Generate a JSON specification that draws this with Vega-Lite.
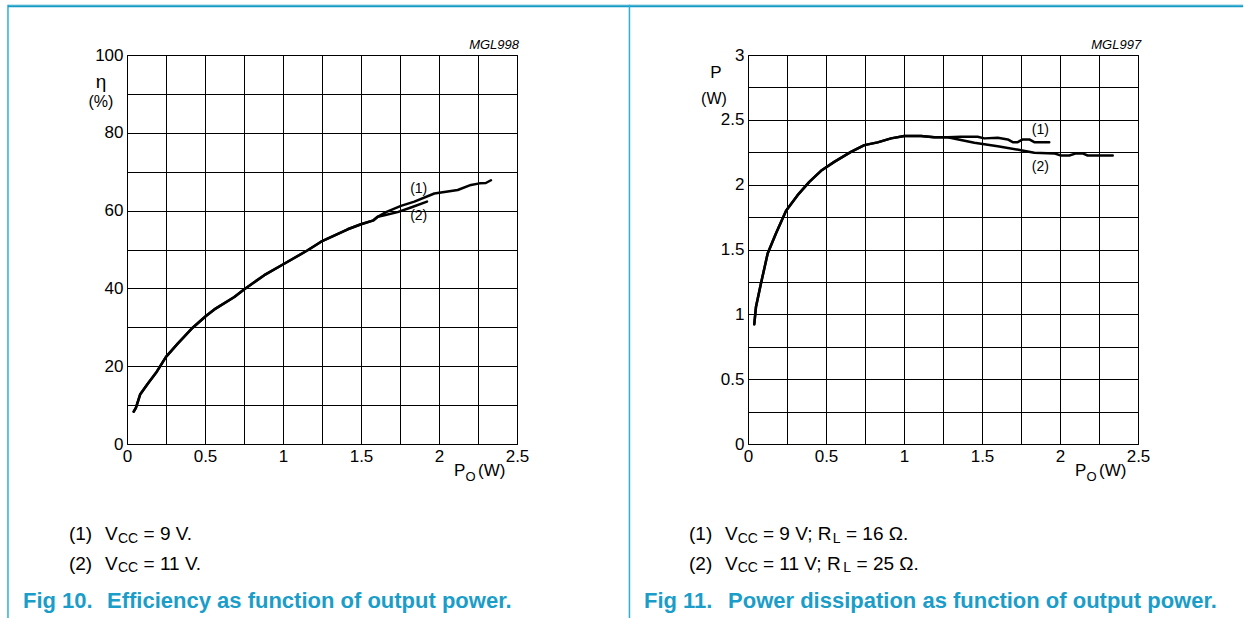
{
  "$schema": "https://vega.github.io/schema/vega-lite/v6.json",
  "background": "white",
  "padding": {"left": 6, "top": 3, "right": 0, "bottom": 0},
  "bounds": "flush",
  "spacing": 231,
  "config": {
    "font": "Liberation Sans",
    "view": {"stroke": "#000", "strokeWidth": 1},
    "axis": {"ticks": false, "domain": false, "grid": true, "gridColor": "#000", "gridOpacity": 1, "gridWidth": 1, "labelFont": "Liberation Sans", "labelFontSize": 17, "labelColor": "#000", "labelPadding": 4, "labelFlush": false, "labelOverlap": false},
    "text": {"font": "Liberation Sans", "color": "#000"}
  },
  "datasets": {
    "eff": [
      {"po": 0.043, "eta": 8.3, "s": "1"}, {"po": 0.057, "eta": 9.3, "s": "1"}, {"po": 0.085, "eta": 12.8, "s": "1"}, {"po": 0.133, "eta": 15.5, "s": "1"}, {"po": 0.186, "eta": 18.3, "s": "1"}, {"po": 0.25, "eta": 22.4, "s": "1"}, {"po": 0.325, "eta": 25.8, "s": "1"}, {"po": 0.421, "eta": 29.9, "s": "1"}, {"po": 0.506, "eta": 32.9, "s": "1"}, {"po": 0.56, "eta": 34.6, "s": "1"}, {"po": 0.688, "eta": 37.8, "s": "1"}, {"po": 0.752, "eta": 39.8, "s": "1"}, {"po": 0.88, "eta": 43.4, "s": "1"}, {"po": 1.002, "eta": 46.2, "s": "1"}, {"po": 1.158, "eta": 49.8, "s": "1"}, {"po": 1.244, "eta": 52.0, "s": "1"}, {"po": 1.415, "eta": 55.2, "s": "1"}, {"po": 1.5, "eta": 56.5, "s": "1"}, {"po": 1.58, "eta": 57.5, "s": "1"}, {"po": 1.607, "eta": 58.4, "s": "1"},
      {"po": 1.65, "eta": 58.8, "s": "1"}, {"po": 1.735, "eta": 59.6, "s": "1"}, {"po": 1.82, "eta": 60.8, "s": "1"}, {"po": 1.923, "eta": 62.3, "s": "1"},
      {"po": 0.043, "eta": 8.3, "s": "2"}, {"po": 0.057, "eta": 9.3, "s": "2"}, {"po": 0.085, "eta": 12.8, "s": "2"}, {"po": 0.133, "eta": 15.5, "s": "2"}, {"po": 0.186, "eta": 18.3, "s": "2"}, {"po": 0.25, "eta": 22.4, "s": "2"}, {"po": 0.325, "eta": 25.8, "s": "2"}, {"po": 0.421, "eta": 29.9, "s": "2"}, {"po": 0.506, "eta": 32.9, "s": "2"}, {"po": 0.56, "eta": 34.6, "s": "2"}, {"po": 0.688, "eta": 37.8, "s": "2"}, {"po": 0.752, "eta": 39.8, "s": "2"}, {"po": 0.88, "eta": 43.4, "s": "2"}, {"po": 1.002, "eta": 46.2, "s": "2"}, {"po": 1.158, "eta": 49.8, "s": "2"}, {"po": 1.244, "eta": 52.0, "s": "2"}, {"po": 1.415, "eta": 55.2, "s": "2"}, {"po": 1.5, "eta": 56.5, "s": "2"}, {"po": 1.58, "eta": 57.5, "s": "2"}, {"po": 1.607, "eta": 58.4, "s": "2"},
      {"po": 1.66, "eta": 59.6, "s": "2"}, {"po": 1.756, "eta": 61.2, "s": "2"}, {"po": 1.842, "eta": 62.3, "s": "2"}, {"po": 1.97, "eta": 64.4, "s": "2"}, {"po": 2.12, "eta": 65.3, "s": "2"}, {"po": 2.205, "eta": 66.6, "s": "2"}, {"po": 2.26, "eta": 67.0, "s": "2"}, {"po": 2.3, "eta": 67.1, "s": "2"}, {"po": 2.333, "eta": 67.8, "s": "2"}
    ],
    "pd": [
      {"po": 0.04, "p": 0.923, "s": "1"}, {"po": 0.051, "p": 1.056, "s": "1"}, {"po": 0.083, "p": 1.237, "s": "1"}, {"po": 0.126, "p": 1.469, "s": "1"}, {"po": 0.179, "p": 1.623, "s": "1"}, {"po": 0.244, "p": 1.798, "s": "1"}, {"po": 0.318, "p": 1.919, "s": "1"}, {"po": 0.393, "p": 2.022, "s": "1"}, {"po": 0.468, "p": 2.107, "s": "1"}, {"po": 0.553, "p": 2.176, "s": "1"}, {"po": 0.66, "p": 2.253, "s": "1"}, {"po": 0.746, "p": 2.305, "s": "1"}, {"po": 0.831, "p": 2.326, "s": "1"}, {"po": 0.917, "p": 2.357, "s": "1"}, {"po": 1.002, "p": 2.375, "s": "1"}, {"po": 1.109, "p": 2.375, "s": "1"}, {"po": 1.194, "p": 2.365, "s": "1"}, {"po": 1.28, "p": 2.365, "s": "1"},
      {"po": 1.365, "p": 2.369, "s": "1"}, {"po": 1.472, "p": 2.369, "s": "1"}, {"po": 1.515, "p": 2.357, "s": "1"}, {"po": 1.601, "p": 2.362, "s": "1"}, {"po": 1.665, "p": 2.349, "s": "1"}, {"po": 1.697, "p": 2.328, "s": "1"}, {"po": 1.729, "p": 2.328, "s": "1"}, {"po": 1.761, "p": 2.349, "s": "1"}, {"po": 1.803, "p": 2.349, "s": "1"}, {"po": 1.835, "p": 2.328, "s": "1"}, {"po": 1.931, "p": 2.328, "s": "1"},
      {"po": 0.04, "p": 0.923, "s": "2"}, {"po": 0.051, "p": 1.056, "s": "2"}, {"po": 0.083, "p": 1.237, "s": "2"}, {"po": 0.126, "p": 1.469, "s": "2"}, {"po": 0.179, "p": 1.623, "s": "2"}, {"po": 0.244, "p": 1.798, "s": "2"}, {"po": 0.318, "p": 1.919, "s": "2"}, {"po": 0.393, "p": 2.022, "s": "2"}, {"po": 0.468, "p": 2.107, "s": "2"}, {"po": 0.553, "p": 2.176, "s": "2"}, {"po": 0.66, "p": 2.253, "s": "2"}, {"po": 0.746, "p": 2.305, "s": "2"}, {"po": 0.831, "p": 2.326, "s": "2"}, {"po": 0.917, "p": 2.357, "s": "2"}, {"po": 1.002, "p": 2.375, "s": "2"}, {"po": 1.109, "p": 2.375, "s": "2"}, {"po": 1.194, "p": 2.365, "s": "2"}, {"po": 1.28, "p": 2.365, "s": "2"},
      {"po": 1.365, "p": 2.344, "s": "2"}, {"po": 1.451, "p": 2.323, "s": "2"}, {"po": 1.601, "p": 2.297, "s": "2"}, {"po": 1.75, "p": 2.266, "s": "2"}, {"po": 1.835, "p": 2.246, "s": "2"}, {"po": 1.963, "p": 2.241, "s": "2"}, {"po": 2.006, "p": 2.225, "s": "2"}, {"po": 2.06, "p": 2.225, "s": "2"}, {"po": 2.103, "p": 2.241, "s": "2"}, {"po": 2.145, "p": 2.241, "s": "2"}, {"po": 2.177, "p": 2.225, "s": "2"}, {"po": 2.338, "p": 2.225, "s": "2"}
    ],
    "annL": [
      {"po": -0.167, "eta": 93.06, "t": "η", "k": "yt"},
      {"po": -0.167, "eta": 87.92, "t": "(%)", "k": "yu"},
      {"po": 2.096, "eta": -7.0, "t": "P", "k": "xt"},
      {"po": 2.17, "eta": -8.6, "t": "O", "k": "xs"},
      {"po": 2.25, "eta": -7.0, "t": "(W)", "k": "xt"},
      {"po": 2.513, "eta": 102.6, "t": "MGL998", "k": "code"},
      {"po": 1.87, "eta": 65.5, "t": "(1)", "k": "lbl"},
      {"po": 1.87, "eta": 58.6, "t": "(2)", "k": "lbl"},
      {"po": -0.372, "eta": -23.1, "t": "(1)", "k": "cap"},
      {"po": -0.141, "eta": -23.1, "t": "V", "k": "cap"},
      {"po": -0.058, "eta": -24.3, "t": "CC", "k": "sub"},
      {"po": 0.106, "eta": -23.1, "t": "= 9 V.", "k": "cap"},
      {"po": -0.372, "eta": -30.8, "t": "(2)", "k": "cap"},
      {"po": -0.141, "eta": -30.8, "t": "V", "k": "cap"},
      {"po": -0.058, "eta": -32.0, "t": "CC", "k": "sub"},
      {"po": 0.106, "eta": -30.8, "t": "= 11 V.", "k": "cap"},
      {"po": -0.667, "eta": -40.4, "t": "Fig 10.", "k": "fig"},
      {"po": -0.128, "eta": -40.4, "t": "Efficiency as function of output power.", "k": "fig"}
    ],
    "annR": [
      {"po": -0.205, "p": 2.861, "t": "P", "k": "yt"},
      {"po": -0.218, "p": 2.661, "t": "(W)", "k": "yu"},
      {"po": 2.096, "p": -0.21, "t": "P", "k": "xt"},
      {"po": 2.17, "p": -0.258, "t": "O", "k": "xs"},
      {"po": 2.25, "p": -0.21, "t": "(W)", "k": "xt"},
      {"po": 2.52, "p": 3.077, "t": "MGL997", "k": "code"},
      {"po": 1.874, "p": 2.419, "t": "(1)", "k": "lbl"},
      {"po": 1.874, "p": 2.136, "t": "(2)", "k": "lbl"},
      {"po": -0.378, "p": -0.694, "t": "(1)", "k": "cap"},
      {"po": -0.147, "p": -0.694, "t": "V", "k": "cap"},
      {"po": -0.066, "p": -0.729, "t": "CC", "k": "sub"},
      {"po": 0.096, "p": -0.694, "t": "= 9 V; R", "k": "cap"},
      {"po": 0.543, "p": -0.729, "t": "L", "k": "sub"},
      {"po": 0.628, "p": -0.694, "t": "= 16 Ω.", "k": "cap"},
      {"po": -0.378, "p": -0.925, "t": "(2)", "k": "cap"},
      {"po": -0.147, "p": -0.925, "t": "V", "k": "cap"},
      {"po": -0.066, "p": -0.96, "t": "CC", "k": "sub"},
      {"po": 0.096, "p": -0.925, "t": "= 11 V; R", "k": "cap"},
      {"po": 0.611, "p": -0.96, "t": "L", "k": "sub"},
      {"po": 0.696, "p": -0.925, "t": "= 25 Ω.", "k": "cap"},
      {"po": -0.667, "p": -1.211, "t": "Fig 11.", "k": "fig"},
      {"po": -0.128, "p": -1.211, "t": "Power dissipation as function of output power.", "k": "fig"}
    ],
    "frameL": [
      {"po": -0.763, "po2": -0.763, "eta": 112.918, "eta2": -44.7, "k": "side"},
      {"po": -0.763, "po2": 7.155, "eta": 112.532, "eta2": 112.532, "k": "top"},
      {"po": -0.763, "po2": 7.155, "eta": 112.918, "eta2": 112.918, "k": "light"}
    ],
    "frameR": [
      {"po": -0.76, "po2": -0.76, "p": 3.387, "p2": -1.35, "k": "side"}
    ]
  },
  "hconcat": [
    {
      "width": 390,
      "height": 389,
      "encoding": {
        "x": {"field": "po", "type": "quantitative", "scale": {"domain": [0, 2.5], "nice": false, "zero": false},
              "axis": {"title": null, "values": [0, 0.25, 0.5, 0.75, 1, 1.25, 1.5, 1.75, 2, 2.25, 2.5], "labelExpr": "datum.value % 0.5 === 0 ? format(datum.value, '~g') : ''", "labelBaseline": "top"}},
        "y": {"field": "eta", "type": "quantitative", "scale": {"domain": [0, 100], "nice": false},
              "axis": {"title": null, "values": [0, 10, 20, 30, 40, 50, 60, 70, 80, 90, 100], "labelExpr": "datum.value % 20 === 0 ? format(datum.value, '~g') : ''"}}
      },
      "layer": [
        {
          "data": {"name": "eff"},
          "mark": {"type": "line", "color": "#000", "strokeWidth": 2.5, "strokeJoin": "round", "strokeCap": "round"},
          "encoding": {"detail": {"field": "s", "type": "nominal"}}
        },
        {
          "data": {"name": "frameL"},
          "transform": [{"filter": "datum.k === 'side'"}],
          "mark": {"type": "rule", "color": "#2cb0d8", "strokeWidth": 1.5},
          "encoding": {"x2": {"field": "po2"}, "y2": {"field": "eta2"}}
        },
        {
          "data": {"name": "frameL"},
          "transform": [{"filter": "datum.k === 'light'"}],
          "mark": {"type": "rule", "color": "#b8dfec", "strokeWidth": 1},
          "encoding": {"x2": {"field": "po2"}, "y2": {"field": "eta2"}}
        },
        {
          "data": {"name": "frameL"},
          "transform": [{"filter": "datum.k === 'top'"}],
          "mark": {"type": "rule", "color": "#159bc5", "strokeWidth": 2},
          "encoding": {"x2": {"field": "po2"}, "y2": {"field": "eta2"}}
        },
        {
          "data": {"name": "annL"},
          "transform": [{"filter": "datum.k === 'yt'"}],
          "mark": {"type": "text", "align": "center", "baseline": "middle", "fontSize": 19},
          "encoding": {"text": {"field": "t"}}
        },
        {
          "data": {"name": "annL"},
          "transform": [{"filter": "datum.k === 'yu'"}],
          "mark": {"type": "text", "align": "center", "baseline": "middle", "fontSize": 16},
          "encoding": {"text": {"field": "t"}}
        },
        {
          "data": {"name": "annL"},
          "transform": [{"filter": "datum.k === 'xt'"}],
          "mark": {"type": "text", "align": "left", "baseline": "middle", "fontSize": 17},
          "encoding": {"text": {"field": "t"}}
        },
        {
          "data": {"name": "annL"},
          "transform": [{"filter": "datum.k === 'xs'"}],
          "mark": {"type": "text", "align": "left", "baseline": "middle", "fontSize": 13},
          "encoding": {"text": {"field": "t"}}
        },
        {
          "data": {"name": "annL"},
          "transform": [{"filter": "datum.k === 'code'"}],
          "mark": {"type": "text", "align": "right", "baseline": "middle", "fontSize": 13, "fontStyle": "italic"},
          "encoding": {"text": {"field": "t"}}
        },
        {
          "data": {"name": "annL"},
          "transform": [{"filter": "datum.k === 'lbl'"}],
          "mark": {"type": "text", "align": "center", "baseline": "middle", "fontSize": 14},
          "encoding": {"text": {"field": "t"}}
        },
        {
          "data": {"name": "annL"},
          "transform": [{"filter": "datum.k === 'cap'"}],
          "mark": {"type": "text", "align": "left", "baseline": "middle", "fontSize": 19},
          "encoding": {"text": {"field": "t"}}
        },
        {
          "data": {"name": "annL"},
          "transform": [{"filter": "datum.k === 'sub'"}],
          "mark": {"type": "text", "align": "left", "baseline": "middle", "fontSize": 14},
          "encoding": {"text": {"field": "t"}}
        },
        {
          "data": {"name": "annL"},
          "transform": [{"filter": "datum.k === 'fig'"}],
          "mark": {"type": "text", "align": "left", "baseline": "middle", "fontSize": 22, "fontWeight": "bold", "color": "#1b9dc9"},
          "encoding": {"text": {"field": "t"}}
        }
      ]
    },
    {
      "width": 390,
      "height": 389,
      "encoding": {
        "x": {"field": "po", "type": "quantitative", "scale": {"domain": [0, 2.5], "nice": false, "zero": false},
              "axis": {"title": null, "values": [0, 0.25, 0.5, 0.75, 1, 1.25, 1.5, 1.75, 2, 2.25, 2.5], "labelExpr": "datum.value % 0.5 === 0 ? format(datum.value, '~g') : ''", "labelBaseline": "top"}},
        "y": {"field": "p", "type": "quantitative", "scale": {"domain": [0, 3], "nice": false},
              "axis": {"title": null, "values": [0, 0.25, 0.5, 0.75, 1, 1.25, 1.5, 1.75, 2, 2.25, 2.5, 2.75, 3], "labelExpr": "datum.value % 0.5 === 0 ? format(datum.value, '~g') : ''"}}
      },
      "layer": [
        {
          "data": {"name": "pd"},
          "mark": {"type": "line", "color": "#000", "strokeWidth": 2.5, "strokeJoin": "round", "strokeCap": "round"},
          "encoding": {"detail": {"field": "s", "type": "nominal"}}
        },
        {
          "data": {"name": "frameR"},
          "transform": [{"filter": "datum.k === 'side'"}],
          "mark": {"type": "rule", "color": "#2cb0d8", "strokeWidth": 1.5},
          "encoding": {"x2": {"field": "po2"}, "y2": {"field": "p2"}}
        },
        {
          "data": {"name": "annR"},
          "transform": [{"filter": "datum.k === 'yt'"}],
          "mark": {"type": "text", "align": "center", "baseline": "middle", "fontSize": 17},
          "encoding": {"text": {"field": "t"}}
        },
        {
          "data": {"name": "annR"},
          "transform": [{"filter": "datum.k === 'yu'"}],
          "mark": {"type": "text", "align": "center", "baseline": "middle", "fontSize": 16},
          "encoding": {"text": {"field": "t"}}
        },
        {
          "data": {"name": "annR"},
          "transform": [{"filter": "datum.k === 'xt'"}],
          "mark": {"type": "text", "align": "left", "baseline": "middle", "fontSize": 17},
          "encoding": {"text": {"field": "t"}}
        },
        {
          "data": {"name": "annR"},
          "transform": [{"filter": "datum.k === 'xs'"}],
          "mark": {"type": "text", "align": "left", "baseline": "middle", "fontSize": 13},
          "encoding": {"text": {"field": "t"}}
        },
        {
          "data": {"name": "annR"},
          "transform": [{"filter": "datum.k === 'code'"}],
          "mark": {"type": "text", "align": "right", "baseline": "middle", "fontSize": 13, "fontStyle": "italic"},
          "encoding": {"text": {"field": "t"}}
        },
        {
          "data": {"name": "annR"},
          "transform": [{"filter": "datum.k === 'lbl'"}],
          "mark": {"type": "text", "align": "center", "baseline": "middle", "fontSize": 14},
          "encoding": {"text": {"field": "t"}}
        },
        {
          "data": {"name": "annR"},
          "transform": [{"filter": "datum.k === 'cap'"}],
          "mark": {"type": "text", "align": "left", "baseline": "middle", "fontSize": 19},
          "encoding": {"text": {"field": "t"}}
        },
        {
          "data": {"name": "annR"},
          "transform": [{"filter": "datum.k === 'sub'"}],
          "mark": {"type": "text", "align": "left", "baseline": "middle", "fontSize": 14},
          "encoding": {"text": {"field": "t"}}
        },
        {
          "data": {"name": "annR"},
          "transform": [{"filter": "datum.k === 'fig'"}],
          "mark": {"type": "text", "align": "left", "baseline": "middle", "fontSize": 22, "fontWeight": "bold", "color": "#1b9dc9"},
          "encoding": {"text": {"field": "t"}}
        }
      ]
    }
  ]
}
